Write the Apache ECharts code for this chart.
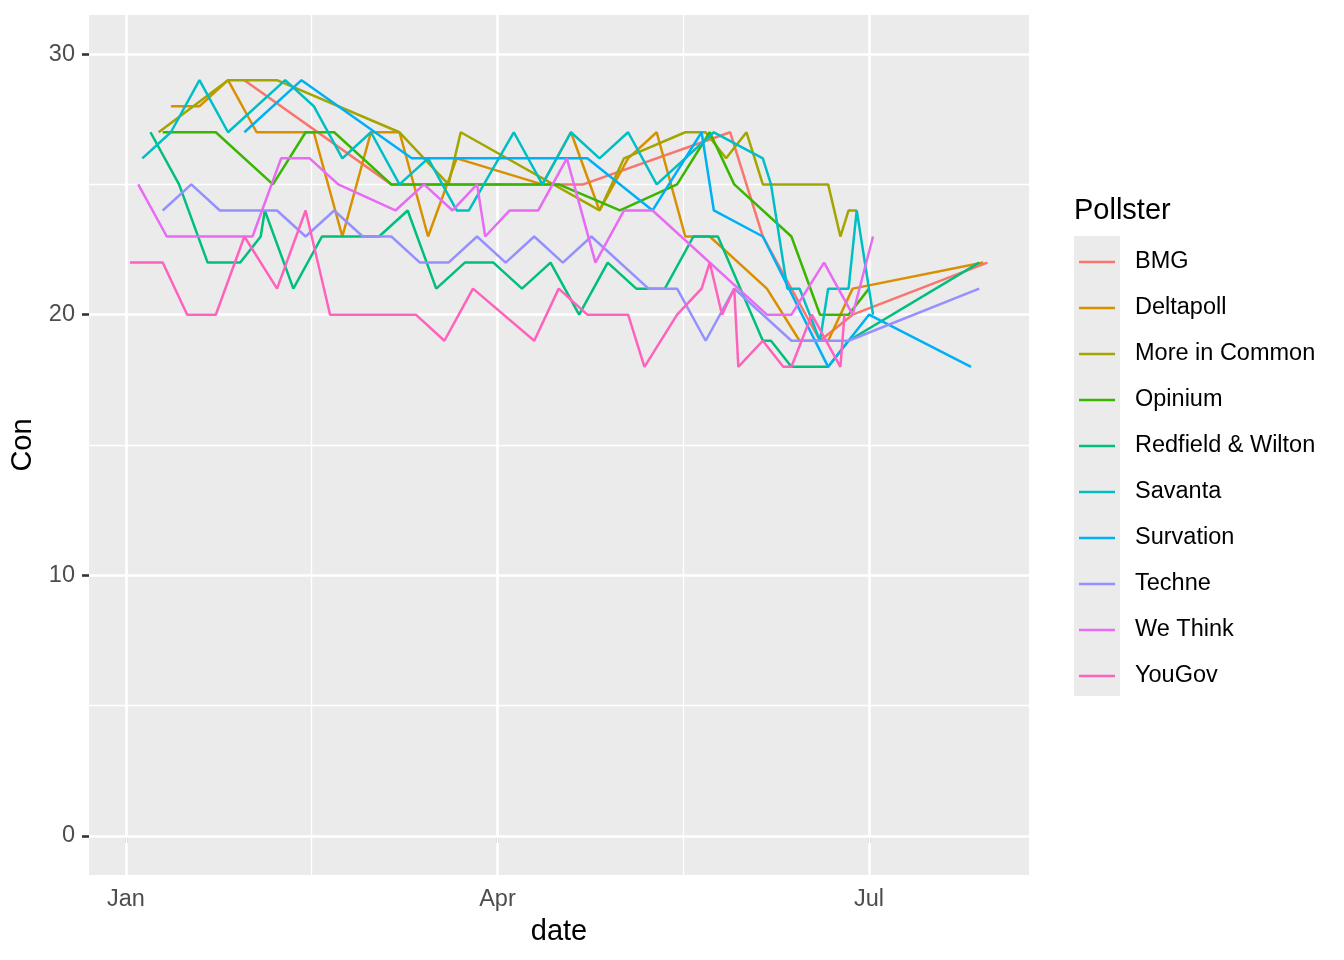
<!DOCTYPE html>
<html><head><meta charset="utf-8">
<script src="https://cdn.jsdelivr.net/npm/echarts@6/dist/echarts.min.js"></script>
<style>html,body{margin:0;padding:0;background:#fff}#c{width:1344px;height:960px}</style>
</head><body><div id="c"></div><script>
const pollsters = ['BMG','Deltapoll','More in Common','Opinium','Redfield & Wilton','Savanta','Survation','Techne','We Think','YouGov'];
const colors = ['#F8766D','#D89000','#A3A500','#39B600','#00BF7D','#00BFC4','#00B0F6','#9590FF','#E76BF3','#FF62BC'];

const bmg = [['2024-01-30',29],['2024-03-06',25],['2024-04-22',25],['2024-05-28',27],['2024-06-05',23],['2024-06-19',19],['2024-06-27',20],['2024-07-30',22]];
const deltapoll = [['2024-01-12',28],['2024-01-19',28],['2024-01-26',29],['2024-02-02',27],['2024-02-16',27],['2024-02-23',23],['2024-03-01',27],['2024-03-08',27],['2024-03-15',23],['2024-03-22',26],['2024-04-12',25],['2024-04-19',27],['2024-04-26',24],['2024-05-03',26],['2024-05-10',27],['2024-05-17',23],['2024-05-23',23],['2024-06-06',21],['2024-06-14',19],['2024-06-21',19],['2024-06-27',21],['2024-07-29',22]];
const moreInCommon = [['2024-01-09',27],['2024-01-26',29],['2024-02-07',29],['2024-03-08',27],['2024-03-20',25],['2024-03-23',27],['2024-04-26',24],['2024-05-02',26],['2024-05-17',27],['2024-05-22',27],['2024-05-27',26],['2024-06-01',27],['2024-06-05',25],['2024-06-21',25],['2024-06-24',23],['2024-06-26',24],['2024-06-28',24]];
const opinium = [['2024-01-10',27],['2024-01-23',27],['2024-02-06',25],['2024-02-14',27],['2024-02-21',27],['2024-03-06',25],['2024-04-16',25],['2024-05-01',24],['2024-05-15',25],['2024-05-23',27],['2024-05-29',25],['2024-06-12',23],['2024-06-19',20],['2024-06-26',20],['2024-07-01',21]];
const redfield = [['2024-01-07',27],['2024-01-14',25],['2024-01-21',22],['2024-01-29',22],['2024-02-03',23],['2024-02-04',24],['2024-02-11',21],['2024-02-18',23],['2024-03-03',23],['2024-03-10',24],['2024-03-17',21],['2024-03-24',22],['2024-03-31',22],['2024-04-07',21],['2024-04-14',22],['2024-04-21',20],['2024-04-28',22],['2024-05-05',21],['2024-05-12',21],['2024-05-19',23],['2024-05-25',23],['2024-06-05',19],['2024-06-07',19],['2024-06-12',18],['2024-06-21',18],['2024-06-26',19],['2024-07-28',22]];
const savanta = [['2024-01-05',26],['2024-01-12',27],['2024-01-19',29],['2024-01-26',27],['2024-02-09',29],['2024-02-16',28],['2024-02-23',26],['2024-03-01',27],['2024-03-08',25],['2024-03-15',26],['2024-03-22',24],['2024-03-25',24],['2024-04-05',27],['2024-04-12',25],['2024-04-19',27],['2024-04-26',26],['2024-05-03',27],['2024-05-10',25],['2024-05-24',27],['2024-06-05',26],['2024-06-07',25],['2024-06-11',21],['2024-06-14',21],['2024-06-19',19],['2024-06-21',21],['2024-06-26',21],['2024-06-28',24],['2024-07-02',20]];
const survation = [['2024-01-30',27],['2024-02-13',29],['2024-03-11',26],['2024-04-23',26],['2024-05-09',24],['2024-05-21',27],['2024-05-24',24],['2024-06-05',23],['2024-06-21',18],['2024-07-01',20],['2024-07-26',18]];
const techne = [['2024-01-10',24],['2024-01-17',25],['2024-01-24',24],['2024-02-07',24],['2024-02-14',23],['2024-02-21',24],['2024-02-28',23],['2024-03-06',23],['2024-03-13',22],['2024-03-20',22],['2024-03-27',23],['2024-04-03',22],['2024-04-10',23],['2024-04-17',22],['2024-04-24',23],['2024-05-08',21],['2024-05-15',21],['2024-05-22',19],['2024-05-29',21],['2024-06-12',19],['2024-06-26',19],['2024-07-28',21]];
const weThink = [['2024-01-04',25],['2024-01-11',23],['2024-02-01',23],['2024-02-08',26],['2024-02-15',26],['2024-02-22',25],['2024-03-07',24],['2024-03-14',25],['2024-03-21',24],['2024-03-27',25],['2024-03-29',23],['2024-04-04',24],['2024-04-11',24],['2024-04-18',26],['2024-04-25',22],['2024-05-02',24],['2024-05-09',24],['2024-06-06',20],['2024-06-12',20],['2024-06-20',22],['2024-06-27',20],['2024-07-02',23]];
const youGov = [['2024-01-02',22],['2024-01-10',22],['2024-01-16',20],['2024-01-23',20],['2024-01-30',23],['2024-02-07',21],['2024-02-14',24],['2024-02-20',20],['2024-03-12',20],['2024-03-19',19],['2024-03-26',21],['2024-04-10',19],['2024-04-16',21],['2024-04-23',20],['2024-05-03',20],['2024-05-07',18],['2024-05-15',20],['2024-05-21',21],['2024-05-23',22],['2024-05-26',20],['2024-05-29',21],['2024-05-30',18],['2024-06-05',19],['2024-06-10',18],['2024-06-12',18],['2024-06-17',20],['2024-06-24',18],['2024-06-25',20]];

const seriesData = [bmg, deltapoll, moreInCommon, opinium, redfield, savanta, survation, techne, weThink, youGov];

const yTicks = [0, 10, 20, 30];
const yMinor = [5, 15, 25];
const xTickDates = ['2024-01-01', '2024-04-01', '2024-07-01'];
const xTickLabels = ['Jan', 'Apr', 'Jul'];

const DAY = 86400000;
function ts(s) { const p = s.split('-').map(Number); return new Date(p[0], p[1] - 1, p[2]).getTime(); }
const xTicks = xTickDates.map(ts);
const xMinor = [(xTicks[0] + xTicks[1]) / 2, (xTicks[1] + xTicks[2]) / 2];
const xMin = xTicks[0] - 9.06 * DAY, xMax = xTicks[0] + 221.2 * DAY;
const yMin = -1.5, yMax = 31.5;

const FONT = '"Liberation Sans", Arial, Helvetica, sans-serif';
const MAJ = 2.6, MIN = 1.3;

function hLine(v, w) { return [{coord: [xMin, v], lineStyle: {width: w}}, {coord: [xMax, v]}]; }
function vLine(v, w) { return [{coord: [v, yMin], lineStyle: {width: w}}, {coord: [v, yMax]}]; }
const gridLines = [
  ...yMinor.map(v => hLine(v, MIN)),
  ...xMinor.map(v => vLine(v, MIN)),
  ...yTicks.map(v => hLine(v, MAJ)),
  ...xTicks.map(v => vLine(v, MAJ))
];

const series = [{
  type: 'line', name: '__grid', data: [], z: 1, silent: true,
  markLine: {
    z: 1, silent: true, symbol: ['none','none'], symbolSize: 0,
    label: {show: false}, emphasis: {disabled: true, label: {show: false}},
    lineStyle: {color: '#FFFFFF', type: 'solid', cap: 'butt'},
    animation: false,
    data: gridLines
  }
}];
pollsters.forEach((p, i) => {
  series.push({
    type: 'line', name: p, data: seriesData[i].map(d => [ts(d[0]), d[1]]), z: 3,
    showSymbol: false, symbol: 'none',
    lineStyle: {color: colors[i], width: 2.5},
    itemStyle: {color: colors[i]},
    emphasis: {disabled: true},
    animation: false
  });
});

const chart = echarts.init(document.getElementById('c'), null, {renderer: 'canvas'});
chart.setOption({
  backgroundColor: '#FFFFFF',
  animation: false,
  textStyle: {fontFamily: FONT},
  grid: {left: 89, top: 15, width: 940, height: 860, show: true, backgroundColor: '#EBEBEB', borderWidth: 0, containLabel: false},
  xAxis: {
    type: 'value', min: xMin, max: xMax,
    axisLine: {show: false}, splitLine: {show: false},
    axisTick: {show: true, customValues: xTicks, length: 7, lineStyle: {color: '#333333', width: MAJ}},
    axisLabel: {customValues: xTicks, formatter: v => xTickLabels[xTicks.indexOf(v)] || '', color: '#4D4D4D', fontSize: 23.5, margin: 13, fontFamily: FONT},
    name: 'date', nameLocation: 'middle', nameGap: 42,
    nameTextStyle: {fontSize: 29, color: '#000000', fontFamily: FONT}
  },
  yAxis: {
    type: 'value', min: yMin, max: yMax,
    axisLine: {show: false}, splitLine: {show: false},
    axisTick: {show: true, customValues: yTicks, length: 7, lineStyle: {color: '#333333', width: MAJ}},
    axisLabel: {customValues: yTicks, color: '#4D4D4D', fontSize: 23.5, margin: 14, fontFamily: FONT},
    name: 'Con', nameLocation: 'middle', nameGap: 46, nameRotate: 90,
    nameTextStyle: {fontSize: 29, color: '#000000', fontFamily: FONT}
  },
  legend: {
    data: pollsters, orient: 'vertical', left: 1079, top: 239,
    itemWidth: 36, itemHeight: 2.6, itemGap: 0, icon: 'rect',
    selectedMode: false, padding: 0,
    textStyle: {fontSize: 23.5, color: '#000000', lineHeight: 46, padding: [0,0,0,15], fontFamily: FONT}
  },
  graphic: [
    {type: 'rect', left: 1074, top: 236, z: 0, shape: {width: 46, height: 460}, style: {fill: '#EBEBEB'}},
    {type: 'text', left: 1074, top: 196, z: 5, style: {text: 'Pollster', fontSize: 29, fill: '#000000', fontFamily: FONT}}
  ],
  series: series
});
</script></body></html>
